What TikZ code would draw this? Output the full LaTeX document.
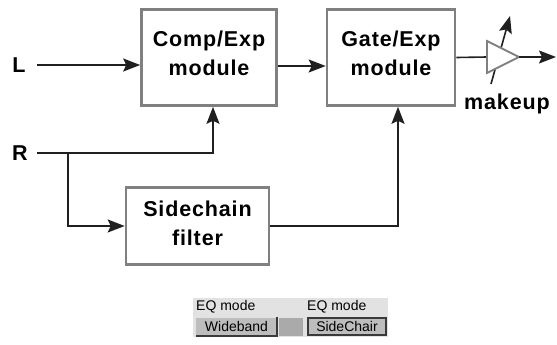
\documentclass[tikz,border=0pt]{standalone}
\usepackage{fontspec}
\setmainfont{Liberation Sans}
\newfontfamily\lblfont[LetterSpace=4]{Liberation Sans}
\usetikzlibrary{arrows.meta}
\definecolor{boxgray}{HTML}{808080}
\definecolor{linegray}{HTML}{202020}
\definecolor{panelgray}{HTML}{E2E2E2}
\definecolor{btngray}{HTML}{BDBDBD}
\definecolor{btndark}{HTML}{3A3A3A}
\tikzset{
  blk/.style={draw=boxgray, line width=2.6pt, fill=white, inner sep=0pt,
    align=center, font=\lblfont\bfseries\fontsize{21.5}{29}\selectfont},
  lbl/.style={inner sep=0pt, font=\lblfont\bfseries\fontsize{21.5}{24}\selectfont},
  conn/.style={draw=linegray, line width=1.6pt, -{Stealth[length=17pt,width=13pt,inset=3pt]}},
  plain/.style={draw=linegray, line width=1.6pt},
  small/.style={inner sep=0pt, anchor=west, font=\fontsize{14}{15}\selectfont},
}
\begin{document}
\begin{tikzpicture}[x=1pt,y=-1pt]
\useasboundingbox (0,0) rectangle (557,345);
% blocks
\node[blk, minimum width=135pt, minimum height=96pt, text depth=9pt] (comp) at (209,57.5) {Comp/Exp\\module};
\node[blk, minimum width=128pt, minimum height=96pt, text depth=9pt] (gate) at (391,57.5) {Gate/Exp\\module};
\node[blk, minimum width=143pt, minimum height=77pt, text depth=5pt] (side) at (197.5,226) {Sidechain\\filter};
% inputs
\node[lbl] (L) at (19,65) {L};
\node[lbl] (R) at (20,153) {R};
\coordinate (Lin) at (37,65);
\coordinate (Rin) at (37,153);
\coordinate (Rturn) at (213,153);
\coordinate (Rbr) at (68,153);
\coordinate (Sturn) at (398,226);
\draw[conn] (Lin) -- (Lin -| comp.west);
\draw[conn] (Rin) -- (Rturn) -- (Rturn |- comp.south);
\draw[conn] (Rbr) |- (side.west);
\draw[conn] (side.east) -- (Sturn) -- (Sturn |- gate.south);
\draw[conn] ([yshift=-8.5pt]comp.east) -- ([yshift=-8.5pt]gate.west);
% makeup amp
\coordinate (ampin) at (487,57);
\coordinate (ampout) at (519,57);
\coordinate (out) at (556,57);
\coordinate (vs) at (491,84);
\coordinate (ve) at (510,16);
\draw[plain] (gate.east) -- (ampin);
\draw[conn] (vs) -- (ve);
\draw[draw=boxgray, line width=1.8pt, fill=white, line join=miter] (487,41) -- (487,73) -- (ampout) -- cycle;
\draw[conn] (ampout) -- (out);
\node[lbl] (mk) at (507,104) {makeup};
% bottom panel
\fill[panelgray] (193,298) rectangle (388,337);
\node[small] (eq1) at (196,307) {EQ mode};
\node[small] (eq2) at (307,307) {EQ mode};
\node[draw=none, fill=btngray, minimum width=81pt, minimum height=18pt, inner sep=0pt, font=\fontsize{14}{15}\selectfont] (wb) at (236.5,326.5) {Wideband};
\draw[btndark, line width=1.6pt] (wb.north east) -- (wb.south east) -- (wb.south west);
\node[draw=none, fill=btngray!90!black, minimum width=24pt, minimum height=18pt, inner sep=0pt] (mid) at (291,326.5) {};
\node[draw=btndark, line width=1.4pt, fill=btngray, minimum width=78pt, minimum height=17pt, inner sep=0pt, font=\fontsize{14}{15}\selectfont] (sc) at (347,326.5) {SideChair};
\end{tikzpicture}
\end{document}
